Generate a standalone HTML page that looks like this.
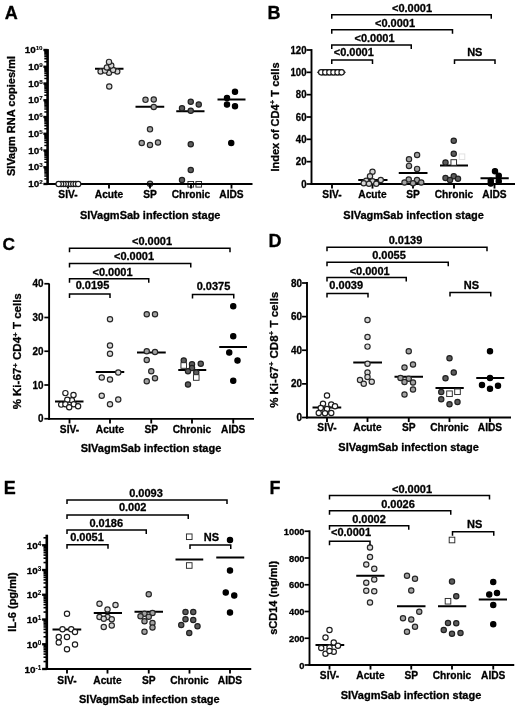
<!DOCTYPE html>
<html lang="en">
<head>
<meta charset="utf-8">
<title>SIVagmSab infection stage figure</title>
<style>
html,body{margin:0;padding:0;background:#fff;}
body{width:520px;height:709px;overflow:hidden;}
svg{display:block;}
text{font-family:"Liberation Sans", Arial, Helvetica, sans-serif;font-weight:bold;stroke:#000;stroke-width:0.3px;stroke-linejoin:round;}
</style>
</head>
<body>
<svg width="520" height="709" viewBox="0 0 520 709" font-family='"Liberation Sans", Arial, Helvetica, sans-serif' font-weight="bold" fill="#000">
<rect width="520" height="709" fill="#fff"/>
<g>
<text x="4.7" y="19.1" font-size="18" text-anchor="start">A</text>
<line x1="95" y1="68.75" x2="123.5" y2="68.75" stroke="#000" stroke-width="2" stroke-linecap="butt"/>
<line x1="135.5" y1="106.75" x2="164.25" y2="106.75" stroke="#000" stroke-width="2" stroke-linecap="butt"/>
<line x1="176.25" y1="111.25" x2="204.5" y2="111.25" stroke="#000" stroke-width="2" stroke-linecap="butt"/>
<line x1="217.5" y1="99.5" x2="245.5" y2="99.5" stroke="#000" stroke-width="2" stroke-linecap="butt"/>
<circle cx="109.25" cy="86.5" r="2.65" fill="#d6d6d6" stroke="#262626" stroke-width="1.15"/>
<circle cx="109" cy="72.75" r="2.65" fill="#d6d6d6" stroke="#262626" stroke-width="1.15"/>
<circle cx="100.6" cy="71.5" r="2.65" fill="#d6d6d6" stroke="#262626" stroke-width="1.15"/>
<circle cx="117.25" cy="71.5" r="2.65" fill="#d6d6d6" stroke="#262626" stroke-width="1.15"/>
<circle cx="105" cy="70.6" r="2.65" fill="#d6d6d6" stroke="#262626" stroke-width="1.15"/>
<circle cx="113.1" cy="70" r="2.65" fill="#d6d6d6" stroke="#262626" stroke-width="1.15"/>
<circle cx="106.9" cy="67.5" r="2.65" fill="#d6d6d6" stroke="#262626" stroke-width="1.15"/>
<circle cx="111.25" cy="65.6" r="2.65" fill="#d6d6d6" stroke="#262626" stroke-width="1.15"/>
<circle cx="109" cy="61.9" r="2.65" fill="#d6d6d6" stroke="#262626" stroke-width="1.15"/>
<circle cx="145.5" cy="99.8" r="2.65" fill="#a2a2a2" stroke="#262626" stroke-width="1.15"/>
<circle cx="153.75" cy="99.5" r="2.65" fill="#a2a2a2" stroke="#262626" stroke-width="1.15"/>
<circle cx="153.75" cy="107" r="2.65" fill="#a2a2a2" stroke="#262626" stroke-width="1.15"/>
<circle cx="150" cy="129.3" r="2.65" fill="#a2a2a2" stroke="#262626" stroke-width="1.15"/>
<circle cx="141.75" cy="143" r="2.65" fill="#a2a2a2" stroke="#262626" stroke-width="1.15"/>
<circle cx="150" cy="145" r="2.65" fill="#a2a2a2" stroke="#262626" stroke-width="1.15"/>
<circle cx="158" cy="142.5" r="2.65" fill="#a2a2a2" stroke="#262626" stroke-width="1.15"/>
<circle cx="150" cy="183.75" r="2.65" fill="#a2a2a2" stroke="#262626" stroke-width="1.15"/>
<circle cx="190.75" cy="101.75" r="2.65" fill="#5c5c5c" stroke="#202020" stroke-width="1.15"/>
<circle cx="198.75" cy="104.5" r="2.65" fill="#5c5c5c" stroke="#202020" stroke-width="1.15"/>
<circle cx="182" cy="108.25" r="2.65" fill="#5c5c5c" stroke="#202020" stroke-width="1.15"/>
<circle cx="190.75" cy="110.75" r="2.65" fill="#5c5c5c" stroke="#202020" stroke-width="1.15"/>
<circle cx="190.75" cy="144.25" r="2.65" fill="#5c5c5c" stroke="#202020" stroke-width="1.15"/>
<circle cx="190.75" cy="170" r="2.65" fill="#5c5c5c" stroke="#202020" stroke-width="1.15"/>
<circle cx="182" cy="180" r="2.65" fill="#5c5c5c" stroke="#202020" stroke-width="1.15"/>
<rect x="187.95" y="181.5" width="5.6" height="5.6" fill="#ffffff" stroke="#2a2a2a" stroke-width="0.95"/>
<rect x="195.95" y="181.5" width="5.6" height="5.6" fill="#ffffff" stroke="#2a2a2a" stroke-width="0.95"/>
<circle cx="235" cy="91.75" r="2.65" fill="#000000" stroke="#000000" stroke-width="1.15"/>
<circle cx="227" cy="98" r="2.65" fill="#000000" stroke="#000000" stroke-width="1.15"/>
<circle cx="227" cy="104.5" r="2.65" fill="#000000" stroke="#000000" stroke-width="1.15"/>
<circle cx="235" cy="106.25" r="2.65" fill="#000000" stroke="#000000" stroke-width="1.15"/>
<circle cx="231.25" cy="143" r="2.65" fill="#000000" stroke="#000000" stroke-width="1.15"/>
<line x1="47.6" y1="49.1" x2="47.6" y2="184.95" stroke="#000" stroke-width="2.6" stroke-linecap="butt"/>
<line x1="46.3" y1="184" x2="252.5" y2="184" stroke="#000" stroke-width="1.9" stroke-linecap="butt"/>
<line x1="43.4" y1="184" x2="47.6" y2="184" stroke="#000" stroke-width="2.34" stroke-linecap="butt"/>
<text x="42.6" y="187" font-size="9.9" text-anchor="end">10<tspan dy="-2.9" font-size="6.24" stroke-width="0.12">2</tspan></text>
<line x1="43.4" y1="167.25" x2="47.6" y2="167.25" stroke="#000" stroke-width="2.34" stroke-linecap="butt"/>
<text x="42.6" y="170.25" font-size="9.9" text-anchor="end">10<tspan dy="-2.9" font-size="6.24" stroke-width="0.12">3</tspan></text>
<line x1="43.4" y1="150.5" x2="47.6" y2="150.5" stroke="#000" stroke-width="2.34" stroke-linecap="butt"/>
<text x="42.6" y="153.5" font-size="9.9" text-anchor="end">10<tspan dy="-2.9" font-size="6.24" stroke-width="0.12">4</tspan></text>
<line x1="43.4" y1="133.75" x2="47.6" y2="133.75" stroke="#000" stroke-width="2.34" stroke-linecap="butt"/>
<text x="42.6" y="136.75" font-size="9.9" text-anchor="end">10<tspan dy="-2.9" font-size="6.24" stroke-width="0.12">5</tspan></text>
<line x1="43.4" y1="117" x2="47.6" y2="117" stroke="#000" stroke-width="2.34" stroke-linecap="butt"/>
<text x="42.6" y="120" font-size="9.9" text-anchor="end">10<tspan dy="-2.9" font-size="6.24" stroke-width="0.12">6</tspan></text>
<line x1="43.4" y1="100.25" x2="47.6" y2="100.25" stroke="#000" stroke-width="2.34" stroke-linecap="butt"/>
<text x="42.6" y="103.25" font-size="9.9" text-anchor="end">10<tspan dy="-2.9" font-size="6.24" stroke-width="0.12">7</tspan></text>
<line x1="43.4" y1="83.5" x2="47.6" y2="83.5" stroke="#000" stroke-width="2.34" stroke-linecap="butt"/>
<text x="42.6" y="86.5" font-size="9.9" text-anchor="end">10<tspan dy="-2.9" font-size="6.24" stroke-width="0.12">8</tspan></text>
<line x1="43.4" y1="66.75" x2="47.6" y2="66.75" stroke="#000" stroke-width="2.34" stroke-linecap="butt"/>
<text x="42.6" y="69.75" font-size="9.9" text-anchor="end">10<tspan dy="-2.9" font-size="6.24" stroke-width="0.12">9</tspan></text>
<line x1="43.4" y1="50" x2="47.6" y2="50" stroke="#000" stroke-width="2.34" stroke-linecap="butt"/>
<text x="42.6" y="53" font-size="9.9" text-anchor="end">10<tspan dy="-2.9" font-size="6.24" stroke-width="0.12">10</tspan></text>
<line x1="44.3" y1="178.96" x2="47.6" y2="178.96" stroke="#000" stroke-width="1.5" stroke-linecap="butt"/>
<line x1="44.3" y1="176.01" x2="47.6" y2="176.01" stroke="#000" stroke-width="1.5" stroke-linecap="butt"/>
<line x1="44.3" y1="173.92" x2="47.6" y2="173.92" stroke="#000" stroke-width="1.5" stroke-linecap="butt"/>
<line x1="44.3" y1="172.29" x2="47.6" y2="172.29" stroke="#000" stroke-width="1.5" stroke-linecap="butt"/>
<line x1="44.3" y1="170.97" x2="47.6" y2="170.97" stroke="#000" stroke-width="1.5" stroke-linecap="butt"/>
<line x1="44.3" y1="169.84" x2="47.6" y2="169.84" stroke="#000" stroke-width="1.5" stroke-linecap="butt"/>
<line x1="44.3" y1="168.87" x2="47.6" y2="168.87" stroke="#000" stroke-width="1.5" stroke-linecap="butt"/>
<line x1="44.3" y1="168.02" x2="47.6" y2="168.02" stroke="#000" stroke-width="1.5" stroke-linecap="butt"/>
<line x1="44.3" y1="162.21" x2="47.6" y2="162.21" stroke="#000" stroke-width="1.5" stroke-linecap="butt"/>
<line x1="44.3" y1="159.26" x2="47.6" y2="159.26" stroke="#000" stroke-width="1.5" stroke-linecap="butt"/>
<line x1="44.3" y1="157.17" x2="47.6" y2="157.17" stroke="#000" stroke-width="1.5" stroke-linecap="butt"/>
<line x1="44.3" y1="155.54" x2="47.6" y2="155.54" stroke="#000" stroke-width="1.5" stroke-linecap="butt"/>
<line x1="44.3" y1="154.22" x2="47.6" y2="154.22" stroke="#000" stroke-width="1.5" stroke-linecap="butt"/>
<line x1="44.3" y1="153.09" x2="47.6" y2="153.09" stroke="#000" stroke-width="1.5" stroke-linecap="butt"/>
<line x1="44.3" y1="152.12" x2="47.6" y2="152.12" stroke="#000" stroke-width="1.5" stroke-linecap="butt"/>
<line x1="44.3" y1="151.27" x2="47.6" y2="151.27" stroke="#000" stroke-width="1.5" stroke-linecap="butt"/>
<line x1="44.3" y1="145.46" x2="47.6" y2="145.46" stroke="#000" stroke-width="1.5" stroke-linecap="butt"/>
<line x1="44.3" y1="142.51" x2="47.6" y2="142.51" stroke="#000" stroke-width="1.5" stroke-linecap="butt"/>
<line x1="44.3" y1="140.42" x2="47.6" y2="140.42" stroke="#000" stroke-width="1.5" stroke-linecap="butt"/>
<line x1="44.3" y1="138.79" x2="47.6" y2="138.79" stroke="#000" stroke-width="1.5" stroke-linecap="butt"/>
<line x1="44.3" y1="137.47" x2="47.6" y2="137.47" stroke="#000" stroke-width="1.5" stroke-linecap="butt"/>
<line x1="44.3" y1="136.34" x2="47.6" y2="136.34" stroke="#000" stroke-width="1.5" stroke-linecap="butt"/>
<line x1="44.3" y1="135.37" x2="47.6" y2="135.37" stroke="#000" stroke-width="1.5" stroke-linecap="butt"/>
<line x1="44.3" y1="134.52" x2="47.6" y2="134.52" stroke="#000" stroke-width="1.5" stroke-linecap="butt"/>
<line x1="44.3" y1="128.71" x2="47.6" y2="128.71" stroke="#000" stroke-width="1.5" stroke-linecap="butt"/>
<line x1="44.3" y1="125.76" x2="47.6" y2="125.76" stroke="#000" stroke-width="1.5" stroke-linecap="butt"/>
<line x1="44.3" y1="123.67" x2="47.6" y2="123.67" stroke="#000" stroke-width="1.5" stroke-linecap="butt"/>
<line x1="44.3" y1="122.04" x2="47.6" y2="122.04" stroke="#000" stroke-width="1.5" stroke-linecap="butt"/>
<line x1="44.3" y1="120.72" x2="47.6" y2="120.72" stroke="#000" stroke-width="1.5" stroke-linecap="butt"/>
<line x1="44.3" y1="119.59" x2="47.6" y2="119.59" stroke="#000" stroke-width="1.5" stroke-linecap="butt"/>
<line x1="44.3" y1="118.62" x2="47.6" y2="118.62" stroke="#000" stroke-width="1.5" stroke-linecap="butt"/>
<line x1="44.3" y1="117.77" x2="47.6" y2="117.77" stroke="#000" stroke-width="1.5" stroke-linecap="butt"/>
<line x1="44.3" y1="111.96" x2="47.6" y2="111.96" stroke="#000" stroke-width="1.5" stroke-linecap="butt"/>
<line x1="44.3" y1="109.01" x2="47.6" y2="109.01" stroke="#000" stroke-width="1.5" stroke-linecap="butt"/>
<line x1="44.3" y1="106.92" x2="47.6" y2="106.92" stroke="#000" stroke-width="1.5" stroke-linecap="butt"/>
<line x1="44.3" y1="105.29" x2="47.6" y2="105.29" stroke="#000" stroke-width="1.5" stroke-linecap="butt"/>
<line x1="44.3" y1="103.97" x2="47.6" y2="103.97" stroke="#000" stroke-width="1.5" stroke-linecap="butt"/>
<line x1="44.3" y1="102.84" x2="47.6" y2="102.84" stroke="#000" stroke-width="1.5" stroke-linecap="butt"/>
<line x1="44.3" y1="101.87" x2="47.6" y2="101.87" stroke="#000" stroke-width="1.5" stroke-linecap="butt"/>
<line x1="44.3" y1="101.02" x2="47.6" y2="101.02" stroke="#000" stroke-width="1.5" stroke-linecap="butt"/>
<line x1="44.3" y1="95.21" x2="47.6" y2="95.21" stroke="#000" stroke-width="1.5" stroke-linecap="butt"/>
<line x1="44.3" y1="92.26" x2="47.6" y2="92.26" stroke="#000" stroke-width="1.5" stroke-linecap="butt"/>
<line x1="44.3" y1="90.17" x2="47.6" y2="90.17" stroke="#000" stroke-width="1.5" stroke-linecap="butt"/>
<line x1="44.3" y1="88.54" x2="47.6" y2="88.54" stroke="#000" stroke-width="1.5" stroke-linecap="butt"/>
<line x1="44.3" y1="87.22" x2="47.6" y2="87.22" stroke="#000" stroke-width="1.5" stroke-linecap="butt"/>
<line x1="44.3" y1="86.09" x2="47.6" y2="86.09" stroke="#000" stroke-width="1.5" stroke-linecap="butt"/>
<line x1="44.3" y1="85.12" x2="47.6" y2="85.12" stroke="#000" stroke-width="1.5" stroke-linecap="butt"/>
<line x1="44.3" y1="84.27" x2="47.6" y2="84.27" stroke="#000" stroke-width="1.5" stroke-linecap="butt"/>
<line x1="44.3" y1="78.46" x2="47.6" y2="78.46" stroke="#000" stroke-width="1.5" stroke-linecap="butt"/>
<line x1="44.3" y1="75.51" x2="47.6" y2="75.51" stroke="#000" stroke-width="1.5" stroke-linecap="butt"/>
<line x1="44.3" y1="73.42" x2="47.6" y2="73.42" stroke="#000" stroke-width="1.5" stroke-linecap="butt"/>
<line x1="44.3" y1="71.79" x2="47.6" y2="71.79" stroke="#000" stroke-width="1.5" stroke-linecap="butt"/>
<line x1="44.3" y1="70.47" x2="47.6" y2="70.47" stroke="#000" stroke-width="1.5" stroke-linecap="butt"/>
<line x1="44.3" y1="69.34" x2="47.6" y2="69.34" stroke="#000" stroke-width="1.5" stroke-linecap="butt"/>
<line x1="44.3" y1="68.37" x2="47.6" y2="68.37" stroke="#000" stroke-width="1.5" stroke-linecap="butt"/>
<line x1="44.3" y1="67.52" x2="47.6" y2="67.52" stroke="#000" stroke-width="1.5" stroke-linecap="butt"/>
<line x1="44.3" y1="61.71" x2="47.6" y2="61.71" stroke="#000" stroke-width="1.5" stroke-linecap="butt"/>
<line x1="44.3" y1="58.76" x2="47.6" y2="58.76" stroke="#000" stroke-width="1.5" stroke-linecap="butt"/>
<line x1="44.3" y1="56.67" x2="47.6" y2="56.67" stroke="#000" stroke-width="1.5" stroke-linecap="butt"/>
<line x1="44.3" y1="55.04" x2="47.6" y2="55.04" stroke="#000" stroke-width="1.5" stroke-linecap="butt"/>
<line x1="44.3" y1="53.72" x2="47.6" y2="53.72" stroke="#000" stroke-width="1.5" stroke-linecap="butt"/>
<line x1="44.3" y1="52.59" x2="47.6" y2="52.59" stroke="#000" stroke-width="1.5" stroke-linecap="butt"/>
<line x1="44.3" y1="51.62" x2="47.6" y2="51.62" stroke="#000" stroke-width="1.5" stroke-linecap="butt"/>
<line x1="44.3" y1="50.77" x2="47.6" y2="50.77" stroke="#000" stroke-width="1.5" stroke-linecap="butt"/>
<line x1="68" y1="184" x2="68" y2="188.55" stroke="#000" stroke-width="1.85" stroke-linecap="butt"/>
<text x="68" y="198.2" font-size="10.2" text-anchor="middle">SIV-</text>
<line x1="109" y1="184" x2="109" y2="188.55" stroke="#000" stroke-width="1.85" stroke-linecap="butt"/>
<text x="109" y="198.2" font-size="10.2" text-anchor="middle">Acute</text>
<line x1="150" y1="184" x2="150" y2="188.55" stroke="#000" stroke-width="1.85" stroke-linecap="butt"/>
<text x="150" y="198.2" font-size="10.2" text-anchor="middle">SP</text>
<line x1="191" y1="184" x2="191" y2="188.55" stroke="#000" stroke-width="1.85" stroke-linecap="butt"/>
<text x="191" y="198.2" font-size="10.2" text-anchor="middle">Chronic</text>
<line x1="231.5" y1="184" x2="231.5" y2="188.55" stroke="#000" stroke-width="1.85" stroke-linecap="butt"/>
<text x="231.5" y="198.2" font-size="10.2" text-anchor="middle">AIDS</text>
<text x="150.2" y="218.8" font-size="11" text-anchor="middle">SIVagmSab infection stage</text>
<text transform="translate(15.1 116) rotate(-90)" font-size="11" text-anchor="middle">SIVagm RNA copies/ml</text>

<circle cx="68.4" cy="184" r="2.65" fill="#ffffff" stroke="#1c1c1c" stroke-width="1.15"/>
<circle cx="70.84" cy="184" r="2.65" fill="#ffffff" stroke="#1c1c1c" stroke-width="1.15"/>
<circle cx="65.96" cy="184" r="2.65" fill="#ffffff" stroke="#1c1c1c" stroke-width="1.15"/>
<circle cx="73.28" cy="184" r="2.65" fill="#ffffff" stroke="#1c1c1c" stroke-width="1.15"/>
<circle cx="63.52" cy="184" r="2.65" fill="#ffffff" stroke="#1c1c1c" stroke-width="1.15"/>
<circle cx="75.72" cy="184" r="2.65" fill="#ffffff" stroke="#1c1c1c" stroke-width="1.15"/>
<circle cx="61.08" cy="184" r="2.65" fill="#ffffff" stroke="#1c1c1c" stroke-width="1.15"/>
<circle cx="78.16" cy="184" r="2.65" fill="#ffffff" stroke="#1c1c1c" stroke-width="1.15"/>
<circle cx="58.64" cy="184" r="2.65" fill="#ffffff" stroke="#1c1c1c" stroke-width="1.15"/>
</g>
<g>
<text x="267.6" y="19.2" font-size="18" text-anchor="start">B</text>
<line x1="358.25" y1="180" x2="387.5" y2="180" stroke="#000" stroke-width="2" stroke-linecap="butt"/>
<line x1="398.75" y1="173" x2="427.5" y2="173" stroke="#000" stroke-width="2" stroke-linecap="butt"/>
<line x1="440" y1="165.5" x2="468" y2="165.5" stroke="#000" stroke-width="2" stroke-linecap="butt"/>
<line x1="480.5" y1="178.25" x2="508.75" y2="178.25" stroke="#000" stroke-width="2" stroke-linecap="butt"/>
<line x1="311.5" y1="49.1" x2="311.5" y2="184.95" stroke="#000" stroke-width="1.9" stroke-linecap="butt"/>
<line x1="310.55" y1="184" x2="515" y2="184" stroke="#000" stroke-width="1.9" stroke-linecap="butt"/>
<line x1="306.55" y1="184" x2="311.5" y2="184" stroke="#000" stroke-width="1.71" stroke-linecap="butt"/>
<text transform="translate(306.5 187.55) scale(0.98 1.03)" font-size="9.8" text-anchor="end">0</text>
<line x1="306.55" y1="161.67" x2="311.5" y2="161.67" stroke="#000" stroke-width="1.71" stroke-linecap="butt"/>
<text transform="translate(306.5 165.22) scale(0.98 1.03)" font-size="9.8" text-anchor="end">20</text>
<line x1="306.55" y1="139.33" x2="311.5" y2="139.33" stroke="#000" stroke-width="1.71" stroke-linecap="butt"/>
<text transform="translate(306.5 142.88) scale(0.98 1.03)" font-size="9.8" text-anchor="end">40</text>
<line x1="306.55" y1="117" x2="311.5" y2="117" stroke="#000" stroke-width="1.71" stroke-linecap="butt"/>
<text transform="translate(306.5 120.55) scale(0.98 1.03)" font-size="9.8" text-anchor="end">60</text>
<line x1="306.55" y1="94.67" x2="311.5" y2="94.67" stroke="#000" stroke-width="1.71" stroke-linecap="butt"/>
<text transform="translate(306.5 98.22) scale(0.98 1.03)" font-size="9.8" text-anchor="end">80</text>
<line x1="306.55" y1="72.33" x2="311.5" y2="72.33" stroke="#000" stroke-width="1.71" stroke-linecap="butt"/>
<text transform="translate(306.5 75.88) scale(0.98 1.03)" font-size="9.8" text-anchor="end">100</text>
<line x1="306.55" y1="50" x2="311.5" y2="50" stroke="#000" stroke-width="1.71" stroke-linecap="butt"/>
<text transform="translate(306.5 53.55) scale(0.98 1.03)" font-size="9.8" text-anchor="end">120</text>
<line x1="332" y1="184" x2="332" y2="188.55" stroke="#000" stroke-width="1.85" stroke-linecap="butt"/>
<text x="332" y="198.2" font-size="10.2" text-anchor="middle">SIV-</text>
<line x1="372.5" y1="184" x2="372.5" y2="188.55" stroke="#000" stroke-width="1.85" stroke-linecap="butt"/>
<text x="372.5" y="198.2" font-size="10.2" text-anchor="middle">Acute</text>
<line x1="413" y1="184" x2="413" y2="188.55" stroke="#000" stroke-width="1.85" stroke-linecap="butt"/>
<text x="413" y="198.2" font-size="10.2" text-anchor="middle">SP</text>
<line x1="454" y1="184" x2="454" y2="188.55" stroke="#000" stroke-width="1.85" stroke-linecap="butt"/>
<text x="454" y="198.2" font-size="10.2" text-anchor="middle">Chronic</text>
<line x1="494.5" y1="184" x2="494.5" y2="188.55" stroke="#000" stroke-width="1.85" stroke-linecap="butt"/>
<text x="494.5" y="198.2" font-size="10.2" text-anchor="middle">AIDS</text>
<text x="413.6" y="218.8" font-size="11" text-anchor="middle">SIVagmSab infection stage</text>
<text transform="translate(279 117) rotate(-90)" font-size="11" text-anchor="middle">Index of CD4<tspan dy="-3.6" font-size="8">+</tspan><tspan dy="3.6"> </tspan>T cells</text>
<path d="M316.8 72.3 L321 69 H342 L346 72.3 L342 75.6 H321 Z" fill="#222"/>
<circle cx="321.2" cy="72.3" r="2.65" fill="#ffffff" stroke="#1c1c1c" stroke-width="1.15"/>
<circle cx="325.28" cy="72.3" r="2.65" fill="#ffffff" stroke="#1c1c1c" stroke-width="1.15"/>
<circle cx="329.36" cy="72.3" r="2.65" fill="#ffffff" stroke="#1c1c1c" stroke-width="1.15"/>
<circle cx="333.44" cy="72.3" r="2.65" fill="#ffffff" stroke="#1c1c1c" stroke-width="1.15"/>
<circle cx="337.52" cy="72.3" r="2.65" fill="#ffffff" stroke="#1c1c1c" stroke-width="1.15"/>
<circle cx="341.6" cy="72.3" r="2.65" fill="#ffffff" stroke="#1c1c1c" stroke-width="1.15"/>
<circle cx="372.5" cy="171.75" r="2.65" fill="#d6d6d6" stroke="#262626" stroke-width="1.15"/>
<circle cx="370" cy="176.25" r="2.65" fill="#d6d6d6" stroke="#262626" stroke-width="1.15"/>
<circle cx="366.25" cy="180.75" r="2.65" fill="#d6d6d6" stroke="#262626" stroke-width="1.15"/>
<circle cx="380.75" cy="180" r="2.65" fill="#d6d6d6" stroke="#262626" stroke-width="1.15"/>
<circle cx="372.5" cy="181.25" r="2.65" fill="#d6d6d6" stroke="#262626" stroke-width="1.15"/>
<circle cx="363.75" cy="183.25" r="2.65" fill="#d6d6d6" stroke="#262626" stroke-width="1.15"/>
<circle cx="376.25" cy="183.75" r="2.65" fill="#d6d6d6" stroke="#262626" stroke-width="1.15"/>
<circle cx="369" cy="183.75" r="2.65" fill="#d6d6d6" stroke="#262626" stroke-width="1.15"/>
<circle cx="417.1" cy="155" r="2.65" fill="#a2a2a2" stroke="#262626" stroke-width="1.15"/>
<circle cx="409" cy="159.2" r="2.65" fill="#a2a2a2" stroke="#262626" stroke-width="1.15"/>
<circle cx="409" cy="165.9" r="2.65" fill="#a2a2a2" stroke="#262626" stroke-width="1.15"/>
<circle cx="417.1" cy="168.9" r="2.65" fill="#a2a2a2" stroke="#262626" stroke-width="1.15"/>
<circle cx="408.75" cy="179.5" r="2.65" fill="#a2a2a2" stroke="#262626" stroke-width="1.15"/>
<circle cx="417" cy="180" r="2.65" fill="#a2a2a2" stroke="#262626" stroke-width="1.15"/>
<circle cx="404.5" cy="182.5" r="2.65" fill="#a2a2a2" stroke="#262626" stroke-width="1.15"/>
<circle cx="413" cy="183.25" r="2.65" fill="#a2a2a2" stroke="#262626" stroke-width="1.15"/>
<circle cx="421.25" cy="182.5" r="2.65" fill="#a2a2a2" stroke="#262626" stroke-width="1.15"/>
<circle cx="453.75" cy="140.75" r="2.65" fill="#5c5c5c" stroke="#202020" stroke-width="1.15"/>
<circle cx="453.75" cy="153.75" r="2.65" fill="#5c5c5c" stroke="#202020" stroke-width="1.15"/>
<circle cx="445.5" cy="162.5" r="2.65" fill="#5c5c5c" stroke="#202020" stroke-width="1.15"/>
<rect x="450.95" y="159.7" width="5.6" height="5.6" fill="#ffffff" stroke="#2a2a2a" stroke-width="0.95"/>
<rect x="459.2" y="153.95" width="5.6" height="5.6" fill="#ffffff" stroke="#e0e0e0" stroke-width="0.95"/>
<circle cx="445.5" cy="178" r="2.65" fill="#5c5c5c" stroke="#202020" stroke-width="1.15"/>
<circle cx="453.75" cy="176.25" r="2.65" fill="#5c5c5c" stroke="#202020" stroke-width="1.15"/>
<circle cx="458" cy="178.75" r="2.65" fill="#5c5c5c" stroke="#202020" stroke-width="1.15"/>
<circle cx="450" cy="180" r="2.65" fill="#5c5c5c" stroke="#202020" stroke-width="1.15"/>
<circle cx="495" cy="171.25" r="2.65" fill="#000000" stroke="#000000" stroke-width="1.15"/>
<circle cx="498.75" cy="175.75" r="2.65" fill="#000000" stroke="#000000" stroke-width="1.15"/>
<circle cx="490.75" cy="180.75" r="2.65" fill="#000000" stroke="#000000" stroke-width="1.15"/>
<circle cx="490.75" cy="183.5" r="2.65" fill="#000000" stroke="#000000" stroke-width="1.15"/>
<circle cx="498.75" cy="181.25" r="2.65" fill="#000000" stroke="#000000" stroke-width="1.15"/>
<path d="M331.75 18.7 V14.7 H491.25 V18.7" fill="none" stroke="#000" stroke-width="1.5"/>
<text x="412" y="11.6" font-size="11" text-anchor="middle">&lt;0.0001</text>
<path d="M331.75 33.8 V29.8 H452.5 V33.8" fill="none" stroke="#000" stroke-width="1.5"/>
<text x="395" y="26.6" font-size="11" text-anchor="middle">&lt;0.0001</text>
<path d="M331.75 49 V45 H411.25 V49" fill="none" stroke="#000" stroke-width="1.5"/>
<text x="374.5" y="41.8" font-size="11" text-anchor="middle">&lt;0.0001</text>
<path d="M331.75 64 V60 H372.5 V64" fill="none" stroke="#000" stroke-width="1.5"/>
<text x="353.8" y="55.8" font-size="11" text-anchor="middle">&lt;0.0001</text>
<path d="M454.5 64 V60 H495 V64" fill="none" stroke="#000" stroke-width="1.5"/>
<text x="474.8" y="56.3" font-size="11" text-anchor="middle">NS</text>
</g>
<g>
<text x="2.6" y="249.5" font-size="17.3" text-anchor="start">C</text>
<line x1="55" y1="401.5" x2="83.5" y2="401.5" stroke="#000" stroke-width="2" stroke-linecap="butt"/>
<line x1="95.75" y1="372" x2="124.25" y2="372" stroke="#000" stroke-width="2" stroke-linecap="butt"/>
<line x1="137" y1="352.5" x2="165.75" y2="352.5" stroke="#000" stroke-width="2" stroke-linecap="butt"/>
<line x1="178.25" y1="370" x2="206.25" y2="370" stroke="#000" stroke-width="2" stroke-linecap="butt"/>
<line x1="219.25" y1="347" x2="247" y2="347" stroke="#000" stroke-width="2" stroke-linecap="butt"/>
<circle cx="65.4" cy="393.1" r="2.65" fill="#ffffff" stroke="#1c1c1c" stroke-width="1.15"/>
<circle cx="73.5" cy="395" r="2.65" fill="#ffffff" stroke="#1c1c1c" stroke-width="1.15"/>
<circle cx="71.9" cy="400.2" r="2.65" fill="#ffffff" stroke="#1c1c1c" stroke-width="1.15"/>
<circle cx="67.3" cy="399.8" r="2.65" fill="#ffffff" stroke="#1c1c1c" stroke-width="1.15"/>
<circle cx="61.2" cy="404.6" r="2.65" fill="#ffffff" stroke="#1c1c1c" stroke-width="1.15"/>
<circle cx="65.4" cy="404.2" r="2.65" fill="#ffffff" stroke="#1c1c1c" stroke-width="1.15"/>
<circle cx="73.8" cy="404.2" r="2.65" fill="#ffffff" stroke="#1c1c1c" stroke-width="1.15"/>
<circle cx="78.1" cy="406.2" r="2.65" fill="#ffffff" stroke="#1c1c1c" stroke-width="1.15"/>
<circle cx="69.2" cy="407.3" r="2.65" fill="#ffffff" stroke="#1c1c1c" stroke-width="1.15"/>
<circle cx="110" cy="319.25" r="2.65" fill="#d6d6d6" stroke="#262626" stroke-width="1.15"/>
<circle cx="110" cy="345.5" r="2.65" fill="#d6d6d6" stroke="#262626" stroke-width="1.15"/>
<circle cx="110" cy="353.75" r="2.65" fill="#d6d6d6" stroke="#262626" stroke-width="1.15"/>
<circle cx="118.25" cy="372.5" r="2.65" fill="#d6d6d6" stroke="#262626" stroke-width="1.15"/>
<circle cx="101.75" cy="377.5" r="2.65" fill="#d6d6d6" stroke="#262626" stroke-width="1.15"/>
<circle cx="110" cy="379.5" r="2.65" fill="#d6d6d6" stroke="#262626" stroke-width="1.15"/>
<circle cx="101.75" cy="395.75" r="2.65" fill="#d6d6d6" stroke="#262626" stroke-width="1.15"/>
<circle cx="118.25" cy="399.5" r="2.65" fill="#d6d6d6" stroke="#262626" stroke-width="1.15"/>
<circle cx="110" cy="404.25" r="2.65" fill="#d6d6d6" stroke="#262626" stroke-width="1.15"/>
<circle cx="146.75" cy="314.25" r="2.65" fill="#a2a2a2" stroke="#262626" stroke-width="1.15"/>
<circle cx="155" cy="314.25" r="2.65" fill="#a2a2a2" stroke="#262626" stroke-width="1.15"/>
<circle cx="146.75" cy="351.25" r="2.65" fill="#a2a2a2" stroke="#262626" stroke-width="1.15"/>
<circle cx="155" cy="352" r="2.65" fill="#a2a2a2" stroke="#262626" stroke-width="1.15"/>
<circle cx="146.75" cy="360" r="2.65" fill="#a2a2a2" stroke="#262626" stroke-width="1.15"/>
<circle cx="151.25" cy="371.25" r="2.65" fill="#a2a2a2" stroke="#262626" stroke-width="1.15"/>
<circle cx="155" cy="378.25" r="2.65" fill="#a2a2a2" stroke="#262626" stroke-width="1.15"/>
<circle cx="146.75" cy="381.25" r="2.65" fill="#a2a2a2" stroke="#262626" stroke-width="1.15"/>
<circle cx="183.75" cy="360.5" r="2.65" fill="#5c5c5c" stroke="#202020" stroke-width="1.15"/>
<rect x="180.95" y="362.7" width="5.6" height="5.6" fill="#ffffff" stroke="#2a2a2a" stroke-width="0.95"/>
<circle cx="192" cy="364.25" r="2.65" fill="#5c5c5c" stroke="#202020" stroke-width="1.15"/>
<circle cx="200.75" cy="363.75" r="2.65" fill="#5c5c5c" stroke="#202020" stroke-width="1.15"/>
<circle cx="192" cy="368" r="2.65" fill="#5c5c5c" stroke="#202020" stroke-width="1.15"/>
<circle cx="188" cy="371.25" r="2.65" fill="#5c5c5c" stroke="#202020" stroke-width="1.15"/>
<circle cx="196.25" cy="372.5" r="2.65" fill="#5c5c5c" stroke="#202020" stroke-width="1.15"/>
<rect x="193.45" y="374.7" width="5.6" height="5.6" fill="#ffffff" stroke="#2a2a2a" stroke-width="0.95"/>
<circle cx="188" cy="384.5" r="2.65" fill="#5c5c5c" stroke="#202020" stroke-width="1.15"/>
<circle cx="233.25" cy="306.25" r="2.65" fill="#000000" stroke="#000000" stroke-width="1.15"/>
<circle cx="233.25" cy="336.25" r="2.65" fill="#000000" stroke="#000000" stroke-width="1.15"/>
<circle cx="229.25" cy="352.5" r="2.65" fill="#000000" stroke="#000000" stroke-width="1.15"/>
<circle cx="237.5" cy="360.5" r="2.65" fill="#000000" stroke="#000000" stroke-width="1.15"/>
<circle cx="233.25" cy="380.75" r="2.65" fill="#000000" stroke="#000000" stroke-width="1.15"/>
<line x1="49.1" y1="283.4" x2="49.1" y2="419.85" stroke="#000" stroke-width="1.9" stroke-linecap="butt"/>
<line x1="48.15" y1="418.9" x2="254" y2="418.9" stroke="#000" stroke-width="1.9" stroke-linecap="butt"/>
<line x1="44.35" y1="418.75" x2="49.1" y2="418.75" stroke="#000" stroke-width="1.71" stroke-linecap="butt"/>
<text transform="translate(43.4 422.3) scale(0.98 1.03)" font-size="10.1" text-anchor="end">0</text>
<line x1="44.35" y1="385" x2="49.1" y2="385" stroke="#000" stroke-width="1.71" stroke-linecap="butt"/>
<text transform="translate(43.4 388.55) scale(0.98 1.03)" font-size="10.1" text-anchor="end">10</text>
<line x1="44.35" y1="351.25" x2="49.1" y2="351.25" stroke="#000" stroke-width="1.71" stroke-linecap="butt"/>
<text transform="translate(43.4 354.8) scale(0.98 1.03)" font-size="10.1" text-anchor="end">20</text>
<line x1="44.35" y1="317.5" x2="49.1" y2="317.5" stroke="#000" stroke-width="1.71" stroke-linecap="butt"/>
<text transform="translate(43.4 321.05) scale(0.98 1.03)" font-size="10.1" text-anchor="end">30</text>
<line x1="44.35" y1="283.75" x2="49.1" y2="283.75" stroke="#000" stroke-width="1.71" stroke-linecap="butt"/>
<text transform="translate(43.4 287.3) scale(0.98 1.03)" font-size="10.1" text-anchor="end">40</text>
<line x1="69.5" y1="418.9" x2="69.5" y2="423.45" stroke="#000" stroke-width="1.85" stroke-linecap="butt"/>
<text x="69.5" y="432.5" font-size="10.2" text-anchor="middle">SIV-</text>
<line x1="110" y1="418.9" x2="110" y2="423.45" stroke="#000" stroke-width="1.85" stroke-linecap="butt"/>
<text x="110" y="432.5" font-size="10.2" text-anchor="middle">Acute</text>
<line x1="151.25" y1="418.9" x2="151.25" y2="423.45" stroke="#000" stroke-width="1.85" stroke-linecap="butt"/>
<text x="151.25" y="432.5" font-size="10.2" text-anchor="middle">SP</text>
<line x1="192" y1="418.9" x2="192" y2="423.45" stroke="#000" stroke-width="1.85" stroke-linecap="butt"/>
<text x="192" y="432.5" font-size="10.2" text-anchor="middle">Chronic</text>
<line x1="233.25" y1="418.9" x2="233.25" y2="423.45" stroke="#000" stroke-width="1.85" stroke-linecap="butt"/>
<text x="233.25" y="432.5" font-size="10.2" text-anchor="middle">AIDS</text>
<text x="151" y="452" font-size="11" text-anchor="middle">SIVagmSab infection stage</text>
<text transform="translate(21.4 351.3) rotate(-90)" font-size="11.5" text-anchor="middle">% Ki-67<tspan dy="-3.6" font-size="8">+</tspan><tspan dy="3.6"> </tspan>CD4<tspan dy="-3.6" font-size="8">+</tspan><tspan dy="3.6"> </tspan>T cells</text>

<path d="M69.5 252.25 V248.25 H230 V252.25" fill="none" stroke="#000" stroke-width="1.5"/>
<text x="152" y="245" font-size="11" text-anchor="middle">&lt;0.0001</text>
<path d="M69.5 267.4 V263.4 H190.75 V267.4" fill="none" stroke="#000" stroke-width="1.5"/>
<text x="134" y="260" font-size="11" text-anchor="middle">&lt;0.0001</text>
<path d="M69.5 282.75 V278.75 H148.75 V282.75" fill="none" stroke="#000" stroke-width="1.5"/>
<text x="112.5" y="275.8" font-size="11" text-anchor="middle">&lt;0.0001</text>
<path d="M69.5 298 V294 H110 V298" fill="none" stroke="#000" stroke-width="1.5"/>
<text x="92.5" y="289.3" font-size="11" text-anchor="middle">0.0195</text>
<path d="M192.5 298.5 V294.5 H233.75 V298.5" fill="none" stroke="#000" stroke-width="1.5"/>
<text x="213.5" y="289.8" font-size="11" text-anchor="middle">0.0375</text>
</g>
<g>
<text x="268.5" y="247.2" font-size="18" text-anchor="start">D</text>
<line x1="312.5" y1="407.5" x2="341.25" y2="407.5" stroke="#000" stroke-width="2" stroke-linecap="butt"/>
<line x1="353.25" y1="362.5" x2="382" y2="362.5" stroke="#000" stroke-width="2" stroke-linecap="butt"/>
<line x1="394.5" y1="376.75" x2="423" y2="376.75" stroke="#000" stroke-width="2" stroke-linecap="butt"/>
<line x1="435.5" y1="388" x2="463.75" y2="388" stroke="#000" stroke-width="2" stroke-linecap="butt"/>
<line x1="476.25" y1="378" x2="504.25" y2="378" stroke="#000" stroke-width="2" stroke-linecap="butt"/>
<circle cx="327" cy="395.5" r="2.65" fill="#ffffff" stroke="#1c1c1c" stroke-width="1.15"/>
<circle cx="323" cy="403.75" r="2.65" fill="#ffffff" stroke="#1c1c1c" stroke-width="1.15"/>
<circle cx="331.25" cy="404.5" r="2.65" fill="#ffffff" stroke="#1c1c1c" stroke-width="1.15"/>
<circle cx="335" cy="406.25" r="2.65" fill="#ffffff" stroke="#1c1c1c" stroke-width="1.15"/>
<circle cx="320.75" cy="408" r="2.65" fill="#ffffff" stroke="#1c1c1c" stroke-width="1.15"/>
<circle cx="327" cy="409" r="2.65" fill="#ffffff" stroke="#1c1c1c" stroke-width="1.15"/>
<circle cx="318.75" cy="413" r="2.65" fill="#ffffff" stroke="#1c1c1c" stroke-width="1.15"/>
<circle cx="325" cy="413.25" r="2.65" fill="#ffffff" stroke="#1c1c1c" stroke-width="1.15"/>
<circle cx="331.25" cy="413" r="2.65" fill="#ffffff" stroke="#1c1c1c" stroke-width="1.15"/>
<circle cx="367.5" cy="320" r="2.65" fill="#d6d6d6" stroke="#262626" stroke-width="1.15"/>
<circle cx="367.5" cy="337" r="2.65" fill="#d6d6d6" stroke="#262626" stroke-width="1.15"/>
<circle cx="367.5" cy="346.6" r="2.65" fill="#d6d6d6" stroke="#262626" stroke-width="1.15"/>
<circle cx="367.5" cy="363.75" r="2.65" fill="#d6d6d6" stroke="#262626" stroke-width="1.15"/>
<circle cx="367.5" cy="372.5" r="2.65" fill="#d6d6d6" stroke="#262626" stroke-width="1.15"/>
<circle cx="367.5" cy="377" r="2.65" fill="#d6d6d6" stroke="#262626" stroke-width="1.15"/>
<circle cx="360" cy="380" r="2.65" fill="#d6d6d6" stroke="#262626" stroke-width="1.15"/>
<circle cx="371.75" cy="381.75" r="2.65" fill="#d6d6d6" stroke="#262626" stroke-width="1.15"/>
<circle cx="363.75" cy="383.75" r="2.65" fill="#d6d6d6" stroke="#262626" stroke-width="1.15"/>
<circle cx="408.75" cy="351.25" r="2.65" fill="#a2a2a2" stroke="#262626" stroke-width="1.15"/>
<circle cx="413" cy="364.5" r="2.65" fill="#a2a2a2" stroke="#262626" stroke-width="1.15"/>
<circle cx="404.5" cy="367.5" r="2.65" fill="#a2a2a2" stroke="#262626" stroke-width="1.15"/>
<circle cx="400.5" cy="378" r="2.65" fill="#a2a2a2" stroke="#262626" stroke-width="1.15"/>
<circle cx="408.75" cy="378.75" r="2.65" fill="#a2a2a2" stroke="#262626" stroke-width="1.15"/>
<circle cx="404.5" cy="382" r="2.65" fill="#a2a2a2" stroke="#262626" stroke-width="1.15"/>
<circle cx="413" cy="382.5" r="2.65" fill="#a2a2a2" stroke="#262626" stroke-width="1.15"/>
<circle cx="413" cy="389.5" r="2.65" fill="#a2a2a2" stroke="#262626" stroke-width="1.15"/>
<circle cx="404.5" cy="394.5" r="2.65" fill="#a2a2a2" stroke="#262626" stroke-width="1.15"/>
<circle cx="449.5" cy="358.25" r="2.65" fill="#5c5c5c" stroke="#202020" stroke-width="1.15"/>
<circle cx="453.75" cy="372.5" r="2.65" fill="#5c5c5c" stroke="#202020" stroke-width="1.15"/>
<circle cx="445.5" cy="378.25" r="2.65" fill="#5c5c5c" stroke="#202020" stroke-width="1.15"/>
<circle cx="441.25" cy="392" r="2.65" fill="#5c5c5c" stroke="#202020" stroke-width="1.15"/>
<rect x="446.7" y="390.95" width="5.6" height="5.6" fill="#ffffff" stroke="#2a2a2a" stroke-width="0.95"/>
<rect x="454.7" y="388.95" width="5.6" height="5.6" fill="#ffffff" stroke="#2a2a2a" stroke-width="0.95"/>
<circle cx="441.25" cy="399.25" r="2.65" fill="#5c5c5c" stroke="#202020" stroke-width="1.15"/>
<circle cx="457.5" cy="402" r="2.65" fill="#5c5c5c" stroke="#202020" stroke-width="1.15"/>
<circle cx="449.5" cy="404.25" r="2.65" fill="#5c5c5c" stroke="#202020" stroke-width="1.15"/>
<circle cx="490" cy="351.25" r="2.65" fill="#000000" stroke="#000000" stroke-width="1.15"/>
<circle cx="490" cy="378" r="2.65" fill="#000000" stroke="#000000" stroke-width="1.15"/>
<circle cx="482" cy="385" r="2.65" fill="#000000" stroke="#000000" stroke-width="1.15"/>
<circle cx="498" cy="385.75" r="2.65" fill="#000000" stroke="#000000" stroke-width="1.15"/>
<circle cx="490" cy="388.75" r="2.65" fill="#000000" stroke="#000000" stroke-width="1.15"/>
<line x1="307" y1="282.1" x2="307" y2="418.45" stroke="#000" stroke-width="1.9" stroke-linecap="butt"/>
<line x1="306.05" y1="417.5" x2="511" y2="417.5" stroke="#000" stroke-width="1.9" stroke-linecap="butt"/>
<line x1="302.05" y1="417.5" x2="307" y2="417.5" stroke="#000" stroke-width="1.71" stroke-linecap="butt"/>
<text transform="translate(302 421.05) scale(0.98 1.03)" font-size="10.1" text-anchor="end">0</text>
<line x1="302.05" y1="383.88" x2="307" y2="383.88" stroke="#000" stroke-width="1.71" stroke-linecap="butt"/>
<text transform="translate(302 387.43) scale(0.98 1.03)" font-size="10.1" text-anchor="end">20</text>
<line x1="302.05" y1="350.25" x2="307" y2="350.25" stroke="#000" stroke-width="1.71" stroke-linecap="butt"/>
<text transform="translate(302 353.8) scale(0.98 1.03)" font-size="10.1" text-anchor="end">40</text>
<line x1="302.05" y1="316.62" x2="307" y2="316.62" stroke="#000" stroke-width="1.71" stroke-linecap="butt"/>
<text transform="translate(302 320.18) scale(0.98 1.03)" font-size="10.1" text-anchor="end">60</text>
<line x1="302.05" y1="283" x2="307" y2="283" stroke="#000" stroke-width="1.71" stroke-linecap="butt"/>
<text transform="translate(302 286.55) scale(0.98 1.03)" font-size="10.1" text-anchor="end">80</text>
<line x1="327" y1="417.5" x2="327" y2="422.05" stroke="#000" stroke-width="1.85" stroke-linecap="butt"/>
<text x="327" y="431.2" font-size="10.2" text-anchor="middle">SIV-</text>
<line x1="367.5" y1="417.5" x2="367.5" y2="422.05" stroke="#000" stroke-width="1.85" stroke-linecap="butt"/>
<text x="367.5" y="431.2" font-size="10.2" text-anchor="middle">Acute</text>
<line x1="408.75" y1="417.5" x2="408.75" y2="422.05" stroke="#000" stroke-width="1.85" stroke-linecap="butt"/>
<text x="408.75" y="431.2" font-size="10.2" text-anchor="middle">SP</text>
<line x1="449.5" y1="417.5" x2="449.5" y2="422.05" stroke="#000" stroke-width="1.85" stroke-linecap="butt"/>
<text x="449.5" y="431.2" font-size="10.2" text-anchor="middle">Chronic</text>
<line x1="490" y1="417.5" x2="490" y2="422.05" stroke="#000" stroke-width="1.85" stroke-linecap="butt"/>
<text x="490" y="431.2" font-size="10.2" text-anchor="middle">AIDS</text>
<text x="408.6" y="451.2" font-size="11" text-anchor="middle">SIVagmSab infection stage</text>
<text transform="translate(278 349.8) rotate(-90)" font-size="11.5" text-anchor="middle">% Ki-67<tspan dy="-3.6" font-size="8">+</tspan><tspan dy="3.6"> </tspan>CD8<tspan dy="-3.6" font-size="8">+</tspan><tspan dy="3.6"> </tspan>T cells</text>

<path d="M327 251.2 V247.2 H487 V251.2" fill="none" stroke="#000" stroke-width="1.5"/>
<text x="405.5" y="244.1" font-size="11" text-anchor="middle">0.0139</text>
<path d="M327 266.3 V262.3 H448.25 V266.3" fill="none" stroke="#000" stroke-width="1.5"/>
<text x="389" y="259" font-size="11" text-anchor="middle">0.0055</text>
<path d="M327 281.5 V277.5 H406.25 V281.5" fill="none" stroke="#000" stroke-width="1.5"/>
<text x="369.7" y="274.6" font-size="11" text-anchor="middle">&lt;0.0001</text>
<path d="M327 297.4 V293.4 H368 V297.4" fill="none" stroke="#000" stroke-width="1.5"/>
<text x="346.2" y="288.5" font-size="11" text-anchor="middle">0.0039</text>
<path d="M450 296.5 V292.5 H490.75 V296.5" fill="none" stroke="#000" stroke-width="1.5"/>
<text x="471.5" y="288.8" font-size="11" text-anchor="middle">NS</text>
</g>
<g>
<text x="3.7" y="493.6" font-size="18" text-anchor="start">E</text>
<line x1="52.5" y1="629.5" x2="81.25" y2="629.5" stroke="#000" stroke-width="2" stroke-linecap="butt"/>
<line x1="93.75" y1="613" x2="122" y2="613" stroke="#000" stroke-width="2" stroke-linecap="butt"/>
<line x1="134.5" y1="611.75" x2="163" y2="611.75" stroke="#000" stroke-width="2" stroke-linecap="butt"/>
<line x1="175.5" y1="559.5" x2="203.25" y2="559.5" stroke="#000" stroke-width="2" stroke-linecap="butt"/>
<line x1="216.25" y1="557.5" x2="244.25" y2="557.5" stroke="#000" stroke-width="2" stroke-linecap="butt"/>
<circle cx="67" cy="613.75" r="2.65" fill="#ffffff" stroke="#1c1c1c" stroke-width="1.15"/>
<circle cx="62.5" cy="629.25" r="2.65" fill="#ffffff" stroke="#1c1c1c" stroke-width="1.15"/>
<circle cx="71.25" cy="629.25" r="2.65" fill="#ffffff" stroke="#1c1c1c" stroke-width="1.15"/>
<circle cx="75" cy="632" r="2.65" fill="#ffffff" stroke="#1c1c1c" stroke-width="1.15"/>
<circle cx="58.75" cy="637" r="2.65" fill="#ffffff" stroke="#1c1c1c" stroke-width="1.15"/>
<circle cx="67" cy="637" r="2.65" fill="#ffffff" stroke="#1c1c1c" stroke-width="1.15"/>
<circle cx="58.75" cy="642.5" r="2.65" fill="#ffffff" stroke="#1c1c1c" stroke-width="1.15"/>
<circle cx="75" cy="644.5" r="2.65" fill="#ffffff" stroke="#1c1c1c" stroke-width="1.15"/>
<circle cx="67" cy="649.25" r="2.65" fill="#ffffff" stroke="#1c1c1c" stroke-width="1.15"/>
<circle cx="99.5" cy="603.75" r="2.65" fill="#d6d6d6" stroke="#262626" stroke-width="1.15"/>
<circle cx="115.5" cy="605" r="2.65" fill="#d6d6d6" stroke="#262626" stroke-width="1.15"/>
<circle cx="107.5" cy="609.5" r="2.65" fill="#d6d6d6" stroke="#262626" stroke-width="1.15"/>
<circle cx="99.5" cy="617" r="2.65" fill="#d6d6d6" stroke="#262626" stroke-width="1.15"/>
<circle cx="107.5" cy="617" r="2.65" fill="#d6d6d6" stroke="#262626" stroke-width="1.15"/>
<circle cx="103.75" cy="618.75" r="2.65" fill="#d6d6d6" stroke="#262626" stroke-width="1.15"/>
<circle cx="111.75" cy="619.25" r="2.65" fill="#d6d6d6" stroke="#262626" stroke-width="1.15"/>
<circle cx="111.75" cy="625.5" r="2.65" fill="#d6d6d6" stroke="#262626" stroke-width="1.15"/>
<circle cx="103.75" cy="627" r="2.65" fill="#d6d6d6" stroke="#262626" stroke-width="1.15"/>
<circle cx="148.75" cy="594.25" r="2.65" fill="#a2a2a2" stroke="#262626" stroke-width="1.15"/>
<circle cx="144.5" cy="613.75" r="2.65" fill="#a2a2a2" stroke="#262626" stroke-width="1.15"/>
<circle cx="152.5" cy="613" r="2.65" fill="#a2a2a2" stroke="#262626" stroke-width="1.15"/>
<circle cx="140.5" cy="616.25" r="2.65" fill="#a2a2a2" stroke="#262626" stroke-width="1.15"/>
<circle cx="148.75" cy="616.75" r="2.65" fill="#a2a2a2" stroke="#262626" stroke-width="1.15"/>
<circle cx="144.5" cy="621.25" r="2.65" fill="#a2a2a2" stroke="#262626" stroke-width="1.15"/>
<circle cx="152.5" cy="623" r="2.65" fill="#a2a2a2" stroke="#262626" stroke-width="1.15"/>
<circle cx="152.5" cy="627.5" r="2.65" fill="#a2a2a2" stroke="#262626" stroke-width="1.15"/>
<circle cx="144.5" cy="631.75" r="2.65" fill="#a2a2a2" stroke="#262626" stroke-width="1.15"/>
<circle cx="185.5" cy="612" r="2.65" fill="#5c5c5c" stroke="#202020" stroke-width="1.15"/>
<circle cx="193.25" cy="612" r="2.65" fill="#5c5c5c" stroke="#202020" stroke-width="1.15"/>
<circle cx="185.5" cy="619.25" r="2.65" fill="#5c5c5c" stroke="#202020" stroke-width="1.15"/>
<circle cx="193.25" cy="620" r="2.65" fill="#5c5c5c" stroke="#202020" stroke-width="1.15"/>
<circle cx="181.25" cy="625" r="2.65" fill="#5c5c5c" stroke="#202020" stroke-width="1.15"/>
<circle cx="197.5" cy="626.25" r="2.65" fill="#5c5c5c" stroke="#202020" stroke-width="1.15"/>
<circle cx="189.25" cy="633" r="2.65" fill="#5c5c5c" stroke="#202020" stroke-width="1.15"/>
<rect x="186.45" y="533.95" width="5.6" height="5.6" fill="#ffffff" stroke="#2a2a2a" stroke-width="0.95"/>
<rect x="186.45" y="562.7" width="5.6" height="5.6" fill="#ffffff" stroke="#2a2a2a" stroke-width="0.95"/>
<circle cx="230" cy="540" r="2.65" fill="#000000" stroke="#000000" stroke-width="1.15"/>
<circle cx="230" cy="570.5" r="2.65" fill="#000000" stroke="#000000" stroke-width="1.15"/>
<circle cx="225.75" cy="592.5" r="2.65" fill="#000000" stroke="#000000" stroke-width="1.15"/>
<circle cx="234.25" cy="595.5" r="2.65" fill="#000000" stroke="#000000" stroke-width="1.15"/>
<circle cx="230" cy="612.5" r="2.65" fill="#000000" stroke="#000000" stroke-width="1.15"/>
<line x1="46.8" y1="534.7" x2="46.8" y2="669.95" stroke="#000" stroke-width="2.6" stroke-linecap="butt"/>
<line x1="45.5" y1="669" x2="251.25" y2="669" stroke="#000" stroke-width="1.9" stroke-linecap="butt"/>
<line x1="42.1" y1="669" x2="46.8" y2="669" stroke="#000" stroke-width="2.34" stroke-linecap="butt"/>
<text x="41.2" y="672.6" font-size="9.9" text-anchor="end">10<tspan dy="-2.9" font-size="6.34" stroke-width="0.12">-1</tspan></text>
<line x1="42.1" y1="644.25" x2="46.8" y2="644.25" stroke="#000" stroke-width="2.34" stroke-linecap="butt"/>
<text x="41.2" y="647.85" font-size="9.9" text-anchor="end">10<tspan dy="-2.9" font-size="6.34" stroke-width="0.12">0</tspan></text>
<line x1="42.1" y1="619.5" x2="46.8" y2="619.5" stroke="#000" stroke-width="2.34" stroke-linecap="butt"/>
<text x="41.2" y="623.1" font-size="9.9" text-anchor="end">10<tspan dy="-2.9" font-size="6.34" stroke-width="0.12">1</tspan></text>
<line x1="42.1" y1="594.75" x2="46.8" y2="594.75" stroke="#000" stroke-width="2.34" stroke-linecap="butt"/>
<text x="41.2" y="598.35" font-size="9.9" text-anchor="end">10<tspan dy="-2.9" font-size="6.34" stroke-width="0.12">2</tspan></text>
<line x1="42.1" y1="570" x2="46.8" y2="570" stroke="#000" stroke-width="2.34" stroke-linecap="butt"/>
<text x="41.2" y="573.6" font-size="9.9" text-anchor="end">10<tspan dy="-2.9" font-size="6.34" stroke-width="0.12">3</tspan></text>
<line x1="42.1" y1="545.25" x2="46.8" y2="545.25" stroke="#000" stroke-width="2.34" stroke-linecap="butt"/>
<text x="41.2" y="548.85" font-size="9.9" text-anchor="end">10<tspan dy="-2.9" font-size="6.34" stroke-width="0.12">4</tspan></text>
<line x1="43.5" y1="661.55" x2="46.8" y2="661.55" stroke="#000" stroke-width="1.6" stroke-linecap="butt"/>
<line x1="43.5" y1="657.19" x2="46.8" y2="657.19" stroke="#000" stroke-width="1.6" stroke-linecap="butt"/>
<line x1="43.5" y1="654.1" x2="46.8" y2="654.1" stroke="#000" stroke-width="1.6" stroke-linecap="butt"/>
<line x1="43.5" y1="651.7" x2="46.8" y2="651.7" stroke="#000" stroke-width="1.6" stroke-linecap="butt"/>
<line x1="43.5" y1="649.74" x2="46.8" y2="649.74" stroke="#000" stroke-width="1.6" stroke-linecap="butt"/>
<line x1="43.5" y1="648.08" x2="46.8" y2="648.08" stroke="#000" stroke-width="1.6" stroke-linecap="butt"/>
<line x1="43.5" y1="646.65" x2="46.8" y2="646.65" stroke="#000" stroke-width="1.6" stroke-linecap="butt"/>
<line x1="43.5" y1="645.38" x2="46.8" y2="645.38" stroke="#000" stroke-width="1.6" stroke-linecap="butt"/>
<line x1="43.5" y1="636.8" x2="46.8" y2="636.8" stroke="#000" stroke-width="1.6" stroke-linecap="butt"/>
<line x1="43.5" y1="632.44" x2="46.8" y2="632.44" stroke="#000" stroke-width="1.6" stroke-linecap="butt"/>
<line x1="43.5" y1="629.35" x2="46.8" y2="629.35" stroke="#000" stroke-width="1.6" stroke-linecap="butt"/>
<line x1="43.5" y1="626.95" x2="46.8" y2="626.95" stroke="#000" stroke-width="1.6" stroke-linecap="butt"/>
<line x1="43.5" y1="624.99" x2="46.8" y2="624.99" stroke="#000" stroke-width="1.6" stroke-linecap="butt"/>
<line x1="43.5" y1="623.33" x2="46.8" y2="623.33" stroke="#000" stroke-width="1.6" stroke-linecap="butt"/>
<line x1="43.5" y1="621.9" x2="46.8" y2="621.9" stroke="#000" stroke-width="1.6" stroke-linecap="butt"/>
<line x1="43.5" y1="620.63" x2="46.8" y2="620.63" stroke="#000" stroke-width="1.6" stroke-linecap="butt"/>
<line x1="43.5" y1="612.05" x2="46.8" y2="612.05" stroke="#000" stroke-width="1.6" stroke-linecap="butt"/>
<line x1="43.5" y1="607.69" x2="46.8" y2="607.69" stroke="#000" stroke-width="1.6" stroke-linecap="butt"/>
<line x1="43.5" y1="604.6" x2="46.8" y2="604.6" stroke="#000" stroke-width="1.6" stroke-linecap="butt"/>
<line x1="43.5" y1="602.2" x2="46.8" y2="602.2" stroke="#000" stroke-width="1.6" stroke-linecap="butt"/>
<line x1="43.5" y1="600.24" x2="46.8" y2="600.24" stroke="#000" stroke-width="1.6" stroke-linecap="butt"/>
<line x1="43.5" y1="598.58" x2="46.8" y2="598.58" stroke="#000" stroke-width="1.6" stroke-linecap="butt"/>
<line x1="43.5" y1="597.15" x2="46.8" y2="597.15" stroke="#000" stroke-width="1.6" stroke-linecap="butt"/>
<line x1="43.5" y1="595.88" x2="46.8" y2="595.88" stroke="#000" stroke-width="1.6" stroke-linecap="butt"/>
<line x1="43.5" y1="587.3" x2="46.8" y2="587.3" stroke="#000" stroke-width="1.6" stroke-linecap="butt"/>
<line x1="43.5" y1="582.94" x2="46.8" y2="582.94" stroke="#000" stroke-width="1.6" stroke-linecap="butt"/>
<line x1="43.5" y1="579.85" x2="46.8" y2="579.85" stroke="#000" stroke-width="1.6" stroke-linecap="butt"/>
<line x1="43.5" y1="577.45" x2="46.8" y2="577.45" stroke="#000" stroke-width="1.6" stroke-linecap="butt"/>
<line x1="43.5" y1="575.49" x2="46.8" y2="575.49" stroke="#000" stroke-width="1.6" stroke-linecap="butt"/>
<line x1="43.5" y1="573.83" x2="46.8" y2="573.83" stroke="#000" stroke-width="1.6" stroke-linecap="butt"/>
<line x1="43.5" y1="572.4" x2="46.8" y2="572.4" stroke="#000" stroke-width="1.6" stroke-linecap="butt"/>
<line x1="43.5" y1="571.13" x2="46.8" y2="571.13" stroke="#000" stroke-width="1.6" stroke-linecap="butt"/>
<line x1="43.5" y1="562.55" x2="46.8" y2="562.55" stroke="#000" stroke-width="1.6" stroke-linecap="butt"/>
<line x1="43.5" y1="558.19" x2="46.8" y2="558.19" stroke="#000" stroke-width="1.6" stroke-linecap="butt"/>
<line x1="43.5" y1="555.1" x2="46.8" y2="555.1" stroke="#000" stroke-width="1.6" stroke-linecap="butt"/>
<line x1="43.5" y1="552.7" x2="46.8" y2="552.7" stroke="#000" stroke-width="1.6" stroke-linecap="butt"/>
<line x1="43.5" y1="550.74" x2="46.8" y2="550.74" stroke="#000" stroke-width="1.6" stroke-linecap="butt"/>
<line x1="43.5" y1="549.08" x2="46.8" y2="549.08" stroke="#000" stroke-width="1.6" stroke-linecap="butt"/>
<line x1="43.5" y1="547.65" x2="46.8" y2="547.65" stroke="#000" stroke-width="1.6" stroke-linecap="butt"/>
<line x1="43.5" y1="546.38" x2="46.8" y2="546.38" stroke="#000" stroke-width="1.6" stroke-linecap="butt"/>
<line x1="43.5" y1="537.8" x2="46.8" y2="537.8" stroke="#000" stroke-width="1.6" stroke-linecap="butt"/>
<line x1="67" y1="669" x2="67" y2="673.55" stroke="#000" stroke-width="1.85" stroke-linecap="butt"/>
<text x="67" y="683.7" font-size="10.2" text-anchor="middle">SIV-</text>
<line x1="107.5" y1="669" x2="107.5" y2="673.55" stroke="#000" stroke-width="1.85" stroke-linecap="butt"/>
<text x="107.5" y="683.7" font-size="10.2" text-anchor="middle">Acute</text>
<line x1="148.75" y1="669" x2="148.75" y2="673.55" stroke="#000" stroke-width="1.85" stroke-linecap="butt"/>
<text x="148.75" y="683.7" font-size="10.2" text-anchor="middle">SP</text>
<line x1="189.5" y1="669" x2="189.5" y2="673.55" stroke="#000" stroke-width="1.85" stroke-linecap="butt"/>
<text x="189.5" y="683.7" font-size="10.2" text-anchor="middle">Chronic</text>
<line x1="230" y1="669" x2="230" y2="673.55" stroke="#000" stroke-width="1.85" stroke-linecap="butt"/>
<text x="230" y="683.7" font-size="10.2" text-anchor="middle">AIDS</text>
<text x="149.3" y="702.8" font-size="11" text-anchor="middle">SIVagmSab infection stage</text>
<text transform="translate(16 602) rotate(-90)" font-size="11" text-anchor="middle">IL-6 (pg/ml)</text>

<path d="M67 504 V500 H227 V504" fill="none" stroke="#000" stroke-width="1.5"/>
<text x="146" y="496.8" font-size="11" text-anchor="middle">0.0093</text>
<path d="M67 519 V515 H188.25 V519" fill="none" stroke="#000" stroke-width="1.5"/>
<text x="132.7" y="511.2" font-size="11" text-anchor="middle">0.002</text>
<path d="M67 534 V530 H146.25 V534" fill="none" stroke="#000" stroke-width="1.5"/>
<text x="106.25" y="526.7" font-size="11" text-anchor="middle">0.0186</text>
<path d="M67 548.8 V544.8 H108 V548.8" fill="none" stroke="#000" stroke-width="1.5"/>
<text x="87" y="540.7" font-size="11" text-anchor="middle">0.0051</text>
<path d="M190 549 V545 H230.75 V549" fill="none" stroke="#000" stroke-width="1.5"/>
<text x="211.5" y="541.3" font-size="11" text-anchor="middle">NS</text>
</g>
<g>
<text x="269.6" y="494.1" font-size="18" text-anchor="start">F</text>
<line x1="315.5" y1="645" x2="344.25" y2="645" stroke="#000" stroke-width="2" stroke-linecap="butt"/>
<line x1="356.25" y1="575.75" x2="384.5" y2="575.75" stroke="#000" stroke-width="2" stroke-linecap="butt"/>
<line x1="397" y1="606.25" x2="425.5" y2="606.25" stroke="#000" stroke-width="2" stroke-linecap="butt"/>
<line x1="438" y1="606.25" x2="466.25" y2="606.25" stroke="#000" stroke-width="2" stroke-linecap="butt"/>
<line x1="478.75" y1="599.5" x2="507" y2="599.5" stroke="#000" stroke-width="2" stroke-linecap="butt"/>
<circle cx="329.5" cy="630" r="2.65" fill="#ffffff" stroke="#1c1c1c" stroke-width="1.15"/>
<circle cx="325.5" cy="637.5" r="2.65" fill="#ffffff" stroke="#1c1c1c" stroke-width="1.15"/>
<circle cx="333.75" cy="642.5" r="2.65" fill="#ffffff" stroke="#1c1c1c" stroke-width="1.15"/>
<circle cx="338" cy="645.75" r="2.65" fill="#ffffff" stroke="#1c1c1c" stroke-width="1.15"/>
<circle cx="321.25" cy="648" r="2.65" fill="#ffffff" stroke="#1c1c1c" stroke-width="1.15"/>
<circle cx="329.5" cy="647.5" r="2.65" fill="#ffffff" stroke="#1c1c1c" stroke-width="1.15"/>
<circle cx="333.75" cy="651.75" r="2.65" fill="#ffffff" stroke="#1c1c1c" stroke-width="1.15"/>
<circle cx="325.5" cy="653.75" r="2.65" fill="#ffffff" stroke="#1c1c1c" stroke-width="1.15"/>
<circle cx="329.5" cy="651" r="2.65" fill="#ffffff" stroke="#1c1c1c" stroke-width="1.15"/>
<circle cx="370" cy="547.5" r="2.65" fill="#d6d6d6" stroke="#262626" stroke-width="1.15"/>
<circle cx="370" cy="557" r="2.65" fill="#d6d6d6" stroke="#262626" stroke-width="1.15"/>
<circle cx="366.25" cy="564.5" r="2.65" fill="#d6d6d6" stroke="#262626" stroke-width="1.15"/>
<circle cx="374.25" cy="568.75" r="2.65" fill="#d6d6d6" stroke="#262626" stroke-width="1.15"/>
<circle cx="374.25" cy="579.5" r="2.65" fill="#d6d6d6" stroke="#262626" stroke-width="1.15"/>
<circle cx="366.25" cy="582.8" r="2.65" fill="#d6d6d6" stroke="#262626" stroke-width="1.15"/>
<circle cx="366.25" cy="590.75" r="2.65" fill="#d6d6d6" stroke="#262626" stroke-width="1.15"/>
<circle cx="374.25" cy="591.25" r="2.65" fill="#d6d6d6" stroke="#262626" stroke-width="1.15"/>
<circle cx="370" cy="602.5" r="2.65" fill="#d6d6d6" stroke="#262626" stroke-width="1.15"/>
<circle cx="407" cy="575.75" r="2.65" fill="#a2a2a2" stroke="#262626" stroke-width="1.15"/>
<circle cx="415" cy="578.75" r="2.65" fill="#a2a2a2" stroke="#262626" stroke-width="1.15"/>
<circle cx="411.25" cy="590.5" r="2.65" fill="#a2a2a2" stroke="#262626" stroke-width="1.15"/>
<circle cx="419.25" cy="611.75" r="2.65" fill="#a2a2a2" stroke="#262626" stroke-width="1.15"/>
<circle cx="403" cy="618.25" r="2.65" fill="#a2a2a2" stroke="#262626" stroke-width="1.15"/>
<circle cx="411.25" cy="619.5" r="2.65" fill="#a2a2a2" stroke="#262626" stroke-width="1.15"/>
<circle cx="415" cy="626.75" r="2.65" fill="#a2a2a2" stroke="#262626" stroke-width="1.15"/>
<circle cx="407" cy="631.75" r="2.65" fill="#a2a2a2" stroke="#262626" stroke-width="1.15"/>
<rect x="449.2" y="537.2" width="5.6" height="5.6" fill="#ffffff" stroke="#2a2a2a" stroke-width="0.95"/>
<circle cx="452" cy="581.6" r="2.65" fill="#5c5c5c" stroke="#202020" stroke-width="1.15"/>
<circle cx="456.25" cy="596.25" r="2.65" fill="#5c5c5c" stroke="#202020" stroke-width="1.15"/>
<rect x="445.2" y="598.45" width="5.6" height="5.6" fill="#ffffff" stroke="#2a2a2a" stroke-width="0.95"/>
<circle cx="448" cy="623" r="2.65" fill="#5c5c5c" stroke="#202020" stroke-width="1.15"/>
<circle cx="456.25" cy="623.25" r="2.65" fill="#5c5c5c" stroke="#202020" stroke-width="1.15"/>
<circle cx="443.75" cy="630" r="2.65" fill="#5c5c5c" stroke="#202020" stroke-width="1.15"/>
<circle cx="452" cy="633.75" r="2.65" fill="#5c5c5c" stroke="#202020" stroke-width="1.15"/>
<circle cx="460.5" cy="633" r="2.65" fill="#5c5c5c" stroke="#202020" stroke-width="1.15"/>
<circle cx="493.25" cy="582" r="2.65" fill="#000000" stroke="#000000" stroke-width="1.15"/>
<circle cx="489.25" cy="594.5" r="2.65" fill="#000000" stroke="#000000" stroke-width="1.15"/>
<circle cx="497" cy="593" r="2.65" fill="#000000" stroke="#000000" stroke-width="1.15"/>
<circle cx="493.25" cy="605" r="2.65" fill="#000000" stroke="#000000" stroke-width="1.15"/>
<circle cx="493.25" cy="624.25" r="2.65" fill="#000000" stroke="#000000" stroke-width="1.15"/>
<line x1="309.5" y1="530.35" x2="309.5" y2="665.95" stroke="#000" stroke-width="1.9" stroke-linecap="butt"/>
<line x1="308.55" y1="665" x2="514.25" y2="665" stroke="#000" stroke-width="1.9" stroke-linecap="butt"/>
<line x1="304.55" y1="665" x2="309.5" y2="665" stroke="#000" stroke-width="1.71" stroke-linecap="butt"/>
<text transform="translate(304.5 668.55) scale(0.98 1.03)" font-size="9.5" text-anchor="end">0</text>
<line x1="304.55" y1="638.25" x2="309.5" y2="638.25" stroke="#000" stroke-width="1.71" stroke-linecap="butt"/>
<text transform="translate(304.5 641.8) scale(0.98 1.03)" font-size="9.5" text-anchor="end">200</text>
<line x1="304.55" y1="611.5" x2="309.5" y2="611.5" stroke="#000" stroke-width="1.71" stroke-linecap="butt"/>
<text transform="translate(304.5 615.05) scale(0.98 1.03)" font-size="9.5" text-anchor="end">400</text>
<line x1="304.55" y1="584.75" x2="309.5" y2="584.75" stroke="#000" stroke-width="1.71" stroke-linecap="butt"/>
<text transform="translate(304.5 588.3) scale(0.98 1.03)" font-size="9.5" text-anchor="end">600</text>
<line x1="304.55" y1="558" x2="309.5" y2="558" stroke="#000" stroke-width="1.71" stroke-linecap="butt"/>
<text transform="translate(304.5 561.55) scale(0.98 1.03)" font-size="9.5" text-anchor="end">800</text>
<line x1="304.55" y1="531.25" x2="309.5" y2="531.25" stroke="#000" stroke-width="1.71" stroke-linecap="butt"/>
<text transform="translate(304.5 534.8) scale(0.98 1.03)" font-size="9.5" text-anchor="end">1000</text>
<line x1="329.5" y1="665" x2="329.5" y2="669.55" stroke="#000" stroke-width="1.85" stroke-linecap="butt"/>
<text x="329.5" y="678.7" font-size="10.2" text-anchor="middle">SIV-</text>
<line x1="370.5" y1="665" x2="370.5" y2="669.55" stroke="#000" stroke-width="1.85" stroke-linecap="butt"/>
<text x="370.5" y="678.7" font-size="10.2" text-anchor="middle">Acute</text>
<line x1="411.25" y1="665" x2="411.25" y2="669.55" stroke="#000" stroke-width="1.85" stroke-linecap="butt"/>
<text x="411.25" y="678.7" font-size="10.2" text-anchor="middle">SP</text>
<line x1="452" y1="665" x2="452" y2="669.55" stroke="#000" stroke-width="1.85" stroke-linecap="butt"/>
<text x="452" y="678.7" font-size="10.2" text-anchor="middle">Chronic</text>
<line x1="493.25" y1="665" x2="493.25" y2="669.55" stroke="#000" stroke-width="1.85" stroke-linecap="butt"/>
<text x="493.25" y="678.7" font-size="10.2" text-anchor="middle">AIDS</text>
<text x="411" y="699.2" font-size="11" text-anchor="middle">SIVagmSab infection stage</text>
<text transform="translate(276.5 597.8) rotate(-90)" font-size="11" text-anchor="middle">sCD14 (ng/ml)</text>

<path d="M329.5 499.5 V495.5 H489.5 V499.5" fill="none" stroke="#000" stroke-width="1.5"/>
<text x="412" y="492.5" font-size="11" text-anchor="middle">&lt;0.0001</text>
<path d="M329.5 514.75 V510.75 H450.75 V514.75" fill="none" stroke="#000" stroke-width="1.5"/>
<text x="398" y="507.5" font-size="11" text-anchor="middle">0.0026</text>
<path d="M329.5 529.75 V525.75 H408.75 V529.75" fill="none" stroke="#000" stroke-width="1.5"/>
<text x="369" y="522.5" font-size="11" text-anchor="middle">0.0002</text>
<path d="M329.5 545.25 V541.25 H370 V545.25" fill="none" stroke="#000" stroke-width="1.5"/>
<text x="351" y="536.3" font-size="11" text-anchor="middle">&lt;0.0001</text>
<path d="M452.5 535.75 V531.75 H493.75 V535.75" fill="none" stroke="#000" stroke-width="1.5"/>
<text x="474.75" y="528" font-size="11" text-anchor="middle">NS</text>
</g>
</svg>
</body>
</html>
